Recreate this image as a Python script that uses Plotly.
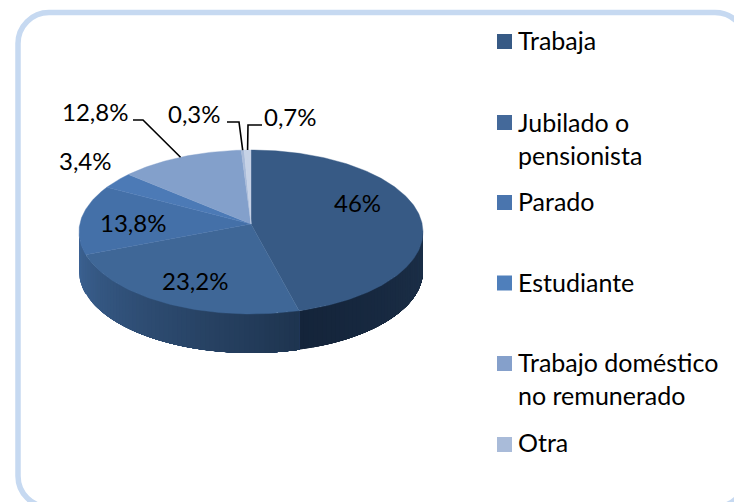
import math
import plotly.graph_objects as go

# ---- data ----
slice_values = [46, 23.2, 13.8, 3.4, 12.8, 0.3, 0.7]
slice_labels = ["46%", "23,2%", "13,8%", "3,4%", "12,8%", "0,3%", "0,7%"]
slice_colors = ["#375a85", "#3f6797", "#4470a8", "#4c7ab6", "#83a0cb", "#a9bbd9", "#c6d2e6"]
legend_labels = ["Trabaja", "Jubilado o<br>pensionista", "Parado", "Estudiante",
                 "Trabajo doméstico<br>no remunerado", "Otra"]
legend_colors = ["#375a85", "#44699a", "#4a75ae", "#4f7fbb", "#85a0cb", "#a9bbd9"]

# ---- layout constants (pixels; axes map 1:1 to the page) ----
W, H = 734, 502
CX, CY, RX, RY = 251, 232, 172, 82
APEX_LIFT = 8          # the pie centre sits this far above the middle of the ellipse
DEPTH = 39
FONT = "Lato"
FS_LABEL = 24
FS_LEGEND = 25
label_pos = {"46%": (357, 202), "23,2%": (195, 280), "13,8%": (133, 222), "3,4%": (85, 160),
             "12,8%": (95, 111), "0,3%": (194, 113), "0,7%": (290, 116)}
legend_y = [41.5, 122.5, 202.5, 283, 363.5, 444.5]
legend_text_y = [40, 138, 201, 282, 378, 442]

P = APEX_LIFT / (2 * RY - APEX_LIFT * 0 ) * 2 / 2 * 2 / 2  # perspective strength
P = APEX_LIFT / RY
C = RX * math.sqrt(1 - P * P)


def pt(frac):
    """Perspective projection of a point on the pie rim."""
    t = 2 * math.pi * frac
    u, v = math.sin(t), math.cos(t)
    d = 1 + P * v
    return CX + C * u / d, CY - (RY * v + APEX_LIFT) / d


def frac_steps(a, b, n=None):
    n = n or max(2, int(abs(b - a) * 400))
    return [a + (b - a) * i / n for i in range(n + 1)]


def mix(c1, c2, u):
    a = [int(c1[i:i + 2], 16) for i in (1, 3, 5)]
    b = [int(c2[i:i + 2], 16) for i in (1, 3, 5)]
    return "#%02x%02x%02x" % tuple(round(p + (q - p) * u) for p, q in zip(a, b))


fig = go.Figure()
total = sum(slice_values)
edges = [0]
for v in slice_values:
    edges.append(edges[-1] + v / total)

# the wall is visible between the two points where the rim is widest
tang = math.asin(P) / (2 * math.pi)
WALL_A, WALL_B = 0.25 + tang, 0.75 - tang
apex = (CX, CY - APEX_LIFT)

# side wall: painted in overlapping bands, far end first, so no seams show
for i in range(len(slice_values)):
    a, b = max(edges[i], WALL_A), min(edges[i + 1], WALL_B)
    if a >= b:
        continue
    fr = frac_steps(b, a, max(2, int((b - a) * 240)))
    for j in range(len(fr) - 1):
        f0 = fr[j]
        if i == 0:
            col = mix("#1c3049", "#14243a", (f0 - a) / (b - a))
        else:
            u = (WALL_B - f0) / (WALL_B - edges[1])
            col = mix("#3d6495", "#1e344f", u)
        xs, ys = [], []
        for f in frac_steps(a, f0):
            x, y = pt(f)
            xs.append(x)
            ys.append(y)
        for f in frac_steps(f0, a):
            x, y = pt(f)
            xs.append(x)
            ys.append(y + DEPTH)
        xs.append(xs[0])
        ys.append(ys[0])
        fig.add_trace(go.Scatter(x=xs, y=ys, mode="lines", fill="toself", fillcolor=col,
                                 line=dict(width=0), hoverinfo="skip", showlegend=False))

# top face
for i in range(len(slice_values)):
    pts = [pt(f) for f in frac_steps(edges[i], edges[i + 1])]
    xs = [apex[0]] + [p[0] for p in pts] + [apex[0]]
    ys = [apex[1]] + [p[1] for p in pts] + [apex[1]]
    fig.add_trace(go.Scatter(x=xs, y=ys, mode="lines", fill="toself", fillcolor=slice_colors[i],
                             line=dict(color=slice_colors[i], width=0.4),
                             name=slice_labels[i], hoverinfo="name", showlegend=False))

# leader lines from the small slices: slice index -> elbow and end
leaders = {4: ((143, 120), (133, 120)), 5: ((239, 122), (227, 122)), 6: ((248, 125), (262, 125))}
for i, (elbow, end) in leaders.items():
    tx, ty = pt((edges[i] + edges[i + 1]) / 2)
    fig.add_trace(go.Scatter(x=[tx, elbow[0], end[0]], y=[ty, elbow[1], end[1]], mode="lines",
                             line=dict(color="#000000", width=1.6), hoverinfo="skip", showlegend=False))

# legend swatches
fig.add_trace(go.Scatter(x=[504.5] * len(legend_y), y=legend_y, mode="markers",
                         marker=dict(symbol="square", size=15, color=legend_colors, line=dict(width=0)),
                         hoverinfo="skip", showlegend=False))

ann = []
for lab in slice_labels:
    x, y = label_pos[lab]
    ann.append(dict(x=x, y=y, text=lab, showarrow=False, xref="x", yref="y",
                    xanchor="center", yanchor="middle", font=dict(family=FONT, size=FS_LABEL, color="#000000")))
for lab, y in zip(legend_labels, legend_text_y):
    ann.append(dict(x=516, y=y, text=lab, showarrow=False, xref="x", yref="y", align="left",
                    xanchor="left", yanchor="middle", font=dict(family=FONT, size=FS_LEGEND, color="#000000")))

# rounded card running off the right and bottom of the page
L, T, R_, B, r = 18, 12.5, 746, 507, 31
k = r * 0.448
frame = (f"M {L + r} {T} L {R_ - r} {T} C {R_ - k} {T} {R_} {T + k} {R_} {T + r} "
         f"L {R_} {B - r} C {R_} {B - k} {R_ - k} {B} {R_ - r} {B} "
         f"L {L + r} {B} C {L + k} {B} {L} {B - k} {L} {B - r} "
         f"L {L} {T + r} C {L} {T + k} {L + k} {T} {L + r} {T} Z")
fig.update_layout(
    width=W, height=H, margin=dict(l=0, r=0, t=0, b=0, pad=0),
    paper_bgcolor="#ffffff", plot_bgcolor="#ffffff", showlegend=False,
    xaxis=dict(range=[0, W], visible=False, fixedrange=True),
    yaxis=dict(range=[H, 0], visible=False, fixedrange=True),
    annotations=ann,
    shapes=[dict(type="path", path=frame, xref="x", yref="y", layer="below",
                 line=dict(color="#c6d9f1", width=5.5), fillcolor="#ffffff")],
)
fig.write_html("out.html", config=dict(displayModeBar=False),
               post_script="document.body.style.margin='0';document.documentElement.style.overflow='hidden';")
